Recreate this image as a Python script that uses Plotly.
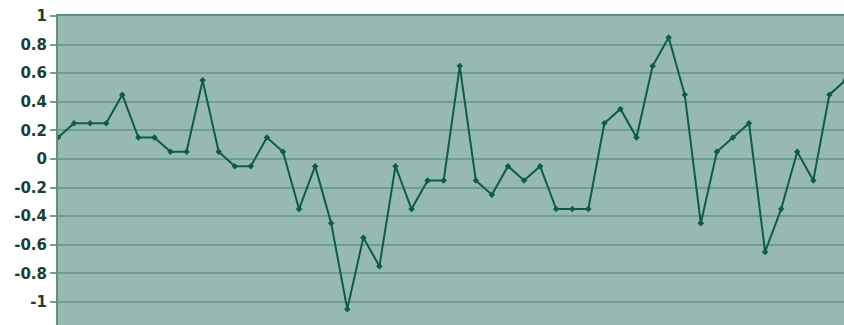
import plotly.graph_objects as go

# Monthly index values (one point per period)
periods = list(range(1, 51))
values = [
    0.15, 0.25, 0.25, 0.25, 0.45, 0.15, 0.15, 0.05, 0.05, 0.55,
    0.05, -0.05, -0.05, 0.15, 0.05, -0.35, -0.05, -0.45, -1.05, -0.55,
    -0.75, -0.05, -0.35, -0.15, -0.15, 0.65, -0.15, -0.25, -0.05, -0.15,
    -0.05, -0.35, -0.35, -0.35, 0.25, 0.35, 0.15, 0.65, 0.85, 0.45,
    -0.45, 0.05, 0.15, 0.25, -0.65, -0.35, 0.05, -0.15, 0.45, 0.55,
]
tick_vals = [1, 0.8, 0.6, 0.4, 0.2, 0, -0.2, -0.4, -0.6, -0.8, -1]
tick_text = ["1", "0.8", "0.6", "0.4", "0.2", "0", "-0.2", "-0.4", "-0.6", "-0.8", "-1"]

LINE = "#0e5c45"
GRID = "#6f9e92"
AXIS = "#5f9083"
BG = "#96bab1"
LABEL = "#163f36"

fig = go.Figure(
    go.Scatter(
        x=periods,
        y=values,
        mode="lines+markers",
        line=dict(color=LINE, width=2),
        marker=dict(symbol="diamond", size=5, color=LINE),
        cliponaxis=True,
        hoverinfo="x+y",
    )
)

fig.update_layout(
    width=844,
    height=325,
    margin=dict(l=58, r=0, t=16, b=0),
    paper_bgcolor="white",
    plot_bgcolor=BG,
    showlegend=False,
    xaxis=dict(
        range=[1, 49.91],
        showgrid=False,
        zeroline=False,
        showticklabels=False,
        ticks="",
        showline=True,
        mirror=True,
        linecolor=AXIS,
        linewidth=2,
    ),
    yaxis=dict(
        range=[-1.161, 1.0],
        tickvals=tick_vals,
        ticktext=tick_text,
        showgrid=True,
        gridcolor=GRID,
        gridwidth=1.5,
        zeroline=False,
        showline=True,
        linecolor=AXIS,
        linewidth=2,
        ticks="outside",
        ticklen=6,
        tickcolor=GRID,
        tickwidth=1.5,
        tickfont=dict(family="DejaVu Sans", size=15, color=LABEL, weight="bold"),
    ),
)

fig.write_html("out.html")
